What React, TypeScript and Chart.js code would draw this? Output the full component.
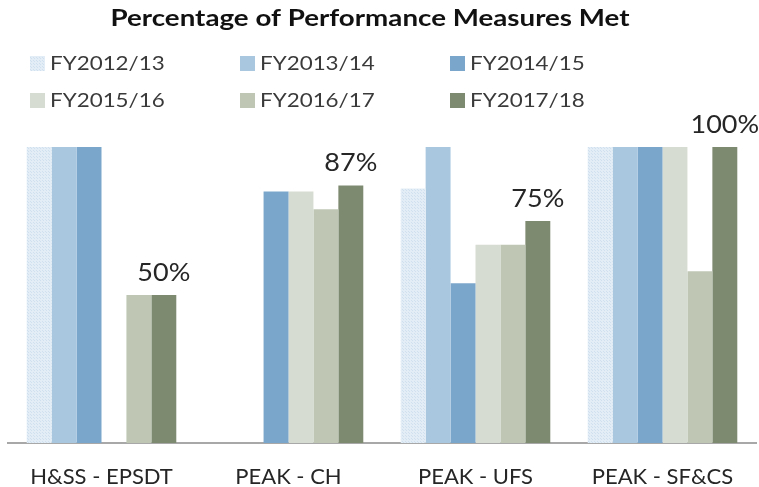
import React, { useEffect, useRef } from "react";
import { Chart, registerables } from "chart.js";

Chart.register(...registerables);

const categories = ["H&SS - EPSDT", "PEAK - CH", "PEAK - UFS", "PEAK - SF&CS"];
const seriesLabels = ["FY2012/13", "FY2013/14", "FY2014/15", "FY2015/16", "FY2016/17", "FY2017/18"];
const fy1213 = [100, null, 86, 100];
const fy1314 = [100, null, 100, 100];
const fy1415 = [100, 85, 54, 100];
const fy1516 = [null, 85, 67, 100];
const fy1617 = [50, 79, 67, 58];
const fy1718 = [50, 87, 75, 100];
const seriesValues = [fy1213, fy1314, fy1415, fy1516, fy1617, fy1718];
const seriesColors = ["#dce9f4", "#a9c7df", "#7ba6cb", "#d7dcd2", "#bfc7b4", "#7e8a70"];
const chartTitle = "Percentage of Performance Measures Met";

const FONT = "Lato, 'Open Sans', sans-serif";

function makeDotPattern(): CanvasPattern | string {
  const c = document.createElement("canvas");
  c.width = 3;
  c.height = 3;
  const ctx = c.getContext("2d");
  if (!ctx) return "#dce9f4";
  ctx.fillStyle = "#e2edf6";
  ctx.fillRect(0, 0, 3, 3);
  ctx.fillStyle = "#d0e0ee";
  ctx.fillRect(0, 0, 1, 1);
  ctx.fillRect(1, 1, 1, 1);
  const p = ctx.createPattern(c, "repeat");
  return p || "#dce9f4";
}

function stretchedText(ctx: CanvasRenderingContext2D, text: string, x: number, y: number, sx: number) {
  ctx.save();
  ctx.translate(x, y);
  ctx.scale(sx, 1);
  ctx.fillText(text, 0, 0);
  ctx.restore();
}

const overlayPlugin = {
  id: "overlay",
  afterDraw(chart: any) {
    const ctx = chart.ctx as CanvasRenderingContext2D;
    ctx.save();
    // title
    ctx.fillStyle = "#111111";
    ctx.font = `bold 22px ${FONT}`;
    ctx.textAlign = "center";
    ctx.textBaseline = "middle";
    stretchedText(ctx, chartTitle, 370, 19, 1.26);
    // legend
    const colX = [30, 240, 450];
    const rowY = [63, 100];
    ctx.font = `20px ${FONT}`;
    ctx.textAlign = "left";
    seriesLabels.forEach((lab, i) => {
      const x = colX[i % 3];
      const y = rowY[Math.floor(i / 3)];
      const ds = chart.data.datasets[i];
      ctx.fillStyle = ds.backgroundColor;
      ctx.fillRect(x, y - 7, 15, 15);
      ctx.fillStyle = "#3a3a3a";
      stretchedText(ctx, lab, x + 20, y + 1, 1.12);
    });
    // data labels on last series
    const last = chart.data.datasets.length - 1;
    const meta = chart.getDatasetMeta(last);
    ctx.font = `25px ${FONT}`;
    ctx.textAlign = "center";
    ctx.textBaseline = "alphabetic";
    ctx.fillStyle = "#262626";
    meta.data.forEach((bar: any, idx: number) => {
      const v = chart.data.datasets[last].data[idx];
      if (v == null) return;
      stretchedText(ctx, `${v}%`, bar.x, bar.y - 14, 1.08);
    });
    ctx.restore();
  },
};

export default function App() {
  const ref = useRef<HTMLCanvasElement | null>(null);
  useEffect(() => {
    if (!ref.current) return;
    const pattern = makeDotPattern();
    const chart = new Chart(ref.current, {
      type: "bar",
      data: {
        labels: categories,
        datasets: seriesValues.map((vals, i) => ({
          label: seriesLabels[i],
          data: vals,
          backgroundColor: i === 0 ? (pattern as any) : seriesColors[i],
          borderWidth: 0,
          categoryPercentage: 0.8,
          barPercentage: 1.0,
        })),
      },
      options: {
        animation: false,
        responsive: true,
        maintainAspectRatio: false,
        layout: { padding: { top: 147, left: 8, right: 3, bottom: 0 } },
        plugins: {
          legend: { display: false },
          title: { display: false },
          tooltip: { enabled: false },
        },
        scales: {
          y: { display: false, min: 0, max: 100 },
          x: {
            grid: { display: false, drawTicks: false, tickLength: 0 },
            border: { display: true, color: "#a8a8a8", width: 2 },
            ticks: {
              color: "#262626",
              font: { family: FONT, size: 22 },
              padding: 21,
              maxRotation: 0,
              autoSkip: false,
            },
            afterFit: (scale: any) => {
              scale.height = 44;
            },
          },
        },
      },
      plugins: [overlayPlugin],
    });
    return () => chart.destroy();
  }, []);
  return (
    <div style={{ position: "fixed", left: 0, top: 0, width: 759, height: 487, background: "#ffffff" }}>
      <canvas ref={ref} />
    </div>
  );
}
